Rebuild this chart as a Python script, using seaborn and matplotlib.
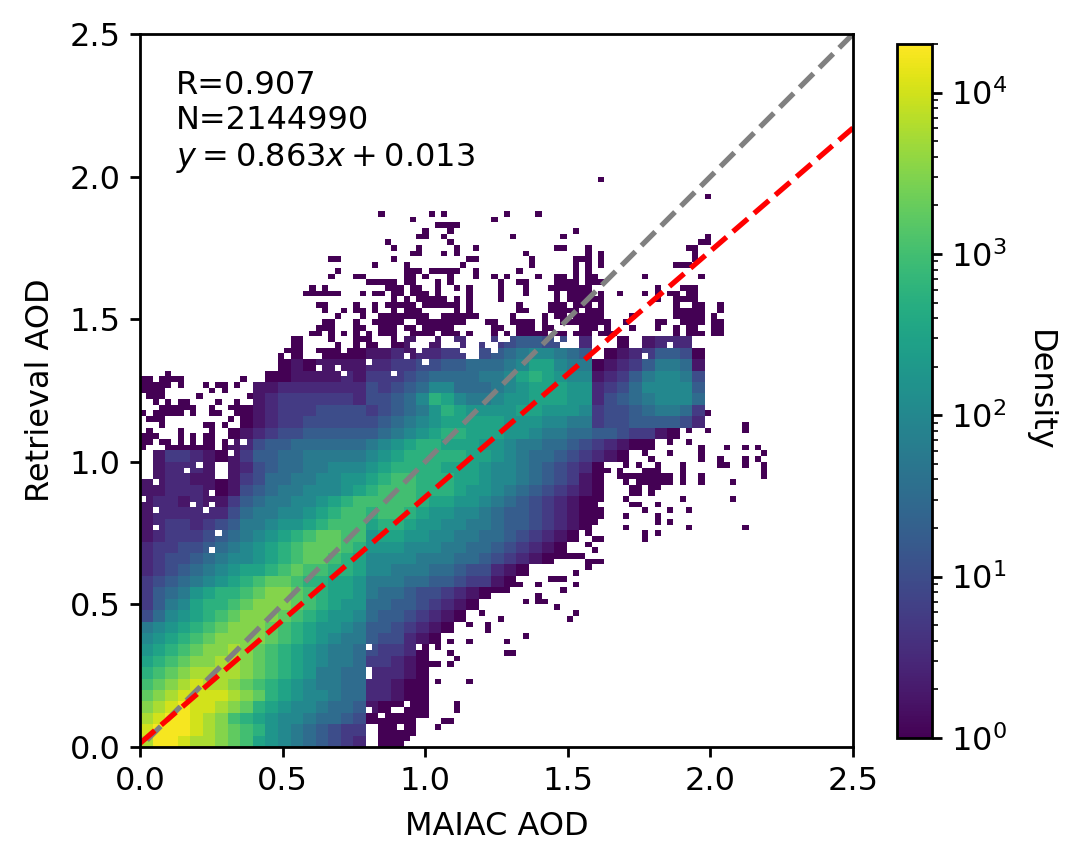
import numpy as np
import matplotlib
matplotlib.use("Agg")
import matplotlib.pyplot as plt
from matplotlib.colors import LogNorm
import seaborn as sns

# log-density levels, bottom row first.
# Each char covers 0.044 x 0.04; level n means 10**(n/4) counts, '.' is empty.
density_rows = [
    "fhhgffedca98765432" + ".00",
    "ghhhgfedcb98765433" + ".000",
    "fghhgfecba98876654" + "0000",
    "efghggfedba9887665" + "10000",
    "defggggfedba988766" + "22100",
    "cdefgffedcba987766" + "22100",
    "bcdeffffedcba97766" + "22210",
    "abcdeeffedcba98776" + "33210",
    "9abcdeefedcba98776" + "43320",
    "89abcdeeeedcba9877" + "544210",
    "789abcdeeedcba9987" + "5543210",
    "4689abcdeeedcba998" + "65543210",
    "3578abbcdeeedcba99" + "665543210",
    "35679abbcdeedcbaa9" + "7665443210",
    "3456789abcddcbbaa9" + "777665543310",
    "23456789aabcdccbba" + "8877766544210",
    "2344567889abcddcba" + "888877766543210",
    "2334456789abcdddcb" + "9998887766543210",
    "12333456789abcddcc" + "9aa99887766543210",
    "1233234577899abccc" + "abba99887765543210",
    "12222224677889abcc" + "bccba9988765543210",
    "122121135677889abc" + "ccccbaa99876543210",
    "11222101456778889a" + "bcccbbba99876543210",
    "112211013466778899" + "abccbbbaa9887654310",
    ".12221112456677888" + "9abbbbaaa9887654320",
    ".13321013556677777" + "89abbbbbaa98766543210",
    ".......12455666666" + "789abbaaa99877665432100",
    "........1234455555" + "56789abbaaa99877665543310",
    "........0123344444" + "456789aaaaa999887734455554" + "2",
    "........0123334444" + "345679ba9999aa9998344567763",
    ".........123333332" + "44568ba877899aaa99245678886",
    ".........112222222" + "4345688666789aaa99234688885",
    "..........00111121" + "333456666778aba988123578874",
    "...........0101111" + "2233445566678aa877012357761",
    "............0.0000" + "112122334456788765.01235540",
    "............0..0.0" + "0.01.1.2.3345544.2..0.1222",
]

# isolated single-count cells: fine row index -> fine column indices
speck_rows = {
    99: [73], 96: [90], 93: [38, 46, 48, 58, 63], 92: [43, 56], 91: [47, 48, 49, 50],
    90: [45, 49, 69], 89: [44, 45, 48, 59, 67, 90], 88: [39, 49, 89, 90],
    87: [40, 44, 50, 53, 66, 67, 71, 87, 88], 86: [43, 44, 48, 50, 61, 71, 73, 88],
    85: [30, 31, 40, 52, 53, 62, 69, 70, 71, 73, 88],
    84: [37, 42, 51, 62, 69, 71, 73, 85, 86, 87],
    83: [31, 42, 43, 44, 46, 47, 48, 49, 50, 53, 60, 69, 71],
    82: [30, 34, 35, 42, 43, 45, 49, 53, 56, 58, 63, 66, 67, 69, 71, 72, 80, 89],
    81: [36, 37, 38, 39, 40, 42, 43, 47, 49, 57, 60, 61, 66, 67, 68, 69, 71, 72, 73],
    80: [27, 29, 39, 40, 41, 43, 44, 47, 50, 52, 57, 61, 65, 66, 67, 68, 69, 70, 71, 82, 86, 87, 88],
    79: [26, 27, 28, 29, 30, 31, 35, 37, 38, 40, 41, 43, 44, 45, 47, 52, 57, 61, 66,
         68, 69, 70, 71, 73, 76, 80, 82, 84, 85, 87, 88],
    78: [40, 42, 44, 45, 46, 47, 48, 50, 52, 57, 66, 68, 69, 70, 71, 72, 73, 82, 85, 86, 87, 88],
    77: [28, 29, 34, 37, 39, 40, 41, 42, 43, 45, 46, 47, 48, 49, 50, 52, 60, 65, 66, 67,
         69, 70, 71, 73, 85, 88, 89, 92],
    76: [29, 32, 34, 35, 37, 40, 42, 43, 44, 50, 52, 60, 61, 65, 66, 67, 68, 69, 71, 72, 73,
         85, 86, 87, 88, 89, 92],
    75: [31, 35, 38, 39, 40, 41, 42, 43, 44, 45, 48, 49, 50, 51, 52, 53, 59, 64, 66, 67,
         69, 70, 71, 72, 73, 78, 85, 86, 87, 88, 89, 91],
    74: [29, 30, 34, 37, 38, 39, 40, 41, 44, 45, 46, 47, 48, 49, 50, 51, 55, 56, 59, 60, 61, 62,
         64, 67, 68, 69, 70, 71, 72, 73, 74, 77, 82, 83, 86, 87, 88, 89, 91, 92],
    73: [28, 29, 30, 34, 35, 38, 39, 40, 42, 43, 45, 46, 47, 48, 49, 56, 57, 60, 61, 62, 64, 65,
         70, 71, 72, 74, 78, 82, 85, 87, 88, 91, 92],
    72: [27, 28, 30, 32, 34, 36, 38, 39, 40, 43, 44, 45, 46, 48, 49, 50, 52, 56, 58, 60, 61, 62,
         63, 64, 66, 67, 69, 70, 71, 73, 74, 75, 85, 87, 88, 89, 91, 92],
    69: [23, 25], 68: [22], 66: [23, 24, 25],
    58: [90], 56: [96], 55: [87, 90, 96], 53: [84, 87], 52: [89, 93, 96, 98],
    51: [75, 76, 80, 84, 89, 99], 50: [76, 77, 81, 89, 92, 96, 98],
    49: [77, 79, 82, 86, 92, 93, 96, 99], 48: [74, 76, 80, 81, 82, 86, 99],
    47: [73, 76, 77, 78, 79, 80, 81, 82, 83, 84, 86, 89, 99],
    46: [77, 79, 80, 81, 82, 83, 84, 86, 89, 94],
    45: [71, 72, 73, 78, 79, 81, 82], 44: [72, 78, 79, 81],
    43: [69, 70, 71, 72, 73, 77, 86, 94], 42: [71, 72, 78, 79, 82], 41: [72, 73, 80, 84, 87],
    40: [70, 72, 73, 77, 82], 39: [69, 72, 82, 84], 38: [70, 77, 87, 96],
    37: [71, 80, 82], 36: [72, 73, 80], 35: [71], 34: [72], 33: [66, 67, 68, 69, 70],
    32: [71, 72, 73], 31: [71], 30: [69], 29: [65, 66, 67], 28: [60, 63, 69],
    27: [56, 57, 58, 67], 26: [63], 25: [61, 63, 64], 24: [66], 23: [54, 69],
    22: [57, 68], 21: [52, 55], 20: [55], 19: [61], 18: [47, 49, 52, 58],
    17: [47], 16: [49, 58, 59], 15: [50], 14: [44, 46, 47, 49], 12: [45], 11: [44, 47, 52],
    7: [43, 50], 6: [45, 50], 5: [44, 45], 4: [48, 49], 3: [43, 47], 2: [42], 1: [42],
}

# sparse upper-left cells, same row/column indexing
left_specks = {
    65: [4], 64: [0, 1, 3, 4, 5, 6, 16], 63: [0, 1, 2, 3, 4, 6, 10, 12, 13, 15],
    62: [0, 1, 2, 3, 11, 13], 61: [1, 2, 3, 9, 17, 19], 60: [2, 4, 6, 7, 12, 15],
    59: [3, 4, 5, 6, 7, 8, 11, 14, 15, 18, 19], 58: [0, 2, 3, 4, 5, 6, 8, 11, 12, 15, 18, 19],
    57: [1, 2, 3, 14, 16, 18, 19], 56: [3, 10, 11, 13, 17], 55: [1, 6, 11, 14, 15, 16, 17],
    54: [0, 1, 2, 6, 8, 10, 11, 14, 15, 16, 17], 53: [0, 1, 3, 4, 6, 8, 10, 11, 13, 15],
    52: [0, 4, 5, 6, 7, 8, 9, 10, 11, 13],
}

# white gaps inside the low-density zones
hole_rows = {
    71: [31, 37, 41, 46, 53, 54, 55, 57, 58, 66, 68], 70: [30, 35, 39, 43, 50, 53, 55, 56, 67, 79, 84],
    69: [32, 44, 51, 52, 53, 56], 68: [28, 42, 52, 53, 80, 91], 67: [36, 45], 66: [28, 31], 65: [32, 40],
    53: [14, 16], 51: [14], 49: [9, 12, 13], 48: [0, 1, 7, 12, 13], 47: [0, 1, 12, 13], 46: [2],
    44: [11], 43: [0], 42: [8, 11], 41: [2, 10], 38: [2], 37: [12], 34: [11],
    17: [36, 44], 13: [36], 12: [36], 7: [42], 6: [36, 40, 41], 5: [38],
    3: [36, 37, 41], 2: [36, 37], 1: [36], 0: [36, 37],
}

ref_x = [2.5, 0.0]
ref_y = [2.5, 0.0]
fit_x = [0.0, 2.5]
slope, intercept = 0.863, 0.013
ticks = [0.0, 0.5, 1.0, 1.5, 2.0, 2.5]
notes = ["R=0.907", "N=2144990", r"$y = 0.863x + 0.013$"]

xedges = np.linspace(0, 2.2, 101)
yedges = np.linspace(0, 2.0, 101)
cx = (xedges[:-1] + xedges[1:]) / 2
cy = (yedges[:-1] + yedges[1:]) / 2

grid = np.zeros((100, 100))
for j, row in enumerate(density_rows):
    for i, ch in enumerate(row):
        if ch != ".":
            grid[2 * j:2 * j + 2, 2 * i:2 * i + 2] = 10 ** (int(ch, 36) / 4)
for group in (speck_rows, left_specks):
    for r, cols in group.items():
        for c in cols:
            if grid[r, c] == 0:
                grid[r, c] = 1.0
for r, cols in hole_rows.items():
    grid[r, cols] = 0

rr, cc = np.nonzero(grid)

W, H = 1080, 867
plt.rcParams["axes.linewidth"] = 1.0
plt.rcParams["xtick.major.width"] = 1.0
plt.rcParams["ytick.major.width"] = 1.0
fig = plt.figure(figsize=(W / 200, H / 200), dpi=200)
ax = fig.add_axes([140 / W, 1 - 747 / H, 713 / W, 713 / H])
cax = fig.add_axes([897 / W, 1 - 738 / H, 35 / W, 694 / H])

sns.histplot(x=cx[cc], y=cy[rr], weights=grid[rr, cc], bins=(xedges, yedges),
             cmap="viridis", ax=ax)
mesh = ax.collections[0]
mesh.set_norm(LogNorm(vmin=1, vmax=2e4))
fig.colorbar(mesh, cax=cax)

ax.plot(ref_x, ref_y, color="gray", ls="--", lw=1.9)
fit_arr = np.array(fit_x)
ax.plot(fit_arr, slope * fit_arr + intercept, color="red", ls="--", lw=1.9)

FS = 11.5
ax.set_xlim(0, 2.5)
ax.set_ylim(0, 2.5)
ax.set_xticks(ticks)
ax.set_yticks(ticks)
ax.tick_params(labelsize=FS)
ax.set_xlabel("MAIAC AOD", fontsize=FS, labelpad=5)
ax.set_ylabel("Retrieval AOD", fontsize=FS, labelpad=5)
for yy, note in zip([2.32, 2.195, 2.065], notes):
    ax.text(0.125, yy, note, fontsize=FS, va="center", ha="left")

cax.tick_params(labelsize=FS)
cax.set_ylabel("Density", fontsize=FS, rotation=270, labelpad=17)

fig.savefig("out.png", dpi=200)
